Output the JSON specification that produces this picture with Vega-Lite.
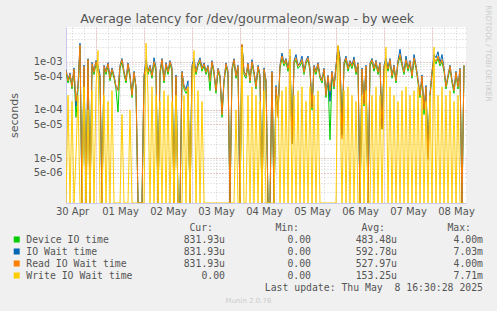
{
"$schema":"https://vega.github.io/schema/vega-lite/v6.json",
"autosize":{"type":"none"},
"padding":{"left":66,"top":27,"right":31,"bottom":108},
"width":400,"height":176,
"background":"#f0f0f0",
"view":{"fill":"white","stroke":null},
"title":{"text":"Average latency for /dev/gourmaleon/swap - by week","anchor":"start","dx":72,"dy":34,"offset":3,"baseline":"alphabetic","font":"DejaVu Sans","fontSize":12.5,"fontWeight":"normal","color":"#555555"},
"datasets":{
"table":[
{"row":"header","col":"Cur","text":"Cur:"},
{"row":"header","col":"Min","text":"Min:"},
{"row":"header","col":"Avg","text":"Avg:"},
{"row":"header","col":"Max","text":"Max:"},
{"row":"Device IO time","col":"Cur","text":"831.93u"},
{"row":"Device IO time","col":"Min","text":"0.00\u00a0"},
{"row":"Device IO time","col":"Avg","text":"483.48u"},
{"row":"Device IO time","col":"Max","text":"4.00m"},
{"row":"IO Wait time","col":"Cur","text":"831.93u"},
{"row":"IO Wait time","col":"Min","text":"0.00\u00a0"},
{"row":"IO Wait time","col":"Avg","text":"592.78u"},
{"row":"IO Wait time","col":"Max","text":"7.03m"},
{"row":"Read IO Wait time","col":"Cur","text":"831.93u"},
{"row":"Read IO Wait time","col":"Min","text":"0.00\u00a0"},
{"row":"Read IO Wait time","col":"Avg","text":"527.97u"},
{"row":"Read IO Wait time","col":"Max","text":"4.00m"},
{"row":"Write IO Wait time","col":"Cur","text":"0.00\u00a0"},
{"row":"Write IO Wait time","col":"Min","text":"0.00\u00a0"},
{"row":"Write IO Wait time","col":"Avg","text":"153.25u"},
{"row":"Write IO Wait time","col":"Max","text":"7.71m"},
{"row":"update","col":"Max","text":"Last update: Thu May\u00a0 8 16:30:28 2025"}
]},
"layer":[
{
"data":{"values":[
{"t":"2025-04-30T09:00","d":5.9e-4,"i":6.8e-4,"r":6.5e-4,"w":0},
{"t":"2025-04-30T10:00","d":3.6e-4,"i":4.3e-4,"r":4e-4,"w":2e-4},
{"t":"2025-04-30T11:00","d":5e-4,"i":5.8e-4,"r":5.5e-4,"w":0},
{"t":"2025-04-30T12:00","d":2.7e-4,"i":3.2e-4,"r":3e-4,"w":1.5e-4},
{"t":"2025-04-30T13:00","d":6.3e-4,"i":7.4e-4,"r":7e-4,"w":0},
{"t":"2025-04-30T14:00","d":7e-5,"i":1.2e-4,"r":1.5e-4,"w":1.2e-5},
{"t":"2025-04-30T15:00","d":2.6e-4,"i":3.3e-4,"r":3e-4,"w":2e-4},
{"t":"2025-04-30T16:00","d":1.9e-3,"i":2.4e-3,"r":2.2e-3,"w":0},
{"t":"2025-04-30T17:00","d":0,"i":0,"r":0,"w":0},
{"t":"2025-04-30T18:00","d":7.2e-4,"i":8.5e-4,"r":8e-4,"w":3e-4},
{"t":"2025-04-30T19:00","d":0,"i":0,"r":0,"w":0},
{"t":"2025-04-30T20:00","d":9.8e-4,"i":1.15e-3,"r":1.1e-3,"w":1e-4},
{"t":"2025-04-30T21:00","d":0,"i":0,"r":0,"w":0},
{"t":"2025-04-30T22:00","d":8.1e-4,"i":9.6e-4,"r":9e-4,"w":2.5e-4},
{"t":"2025-04-30T23:00","d":5.4e-4,"i":6.3e-4,"r":6e-4,"w":0},
{"t":"2025-05-01T00:00","d":9e-4,"i":1.06e-3,"r":1e-3,"w":3e-4},
{"t":"2025-05-01T01:00","d":6.3e-4,"i":8.5e-4,"r":7e-4,"w":1.7e-3},
{"t":"2025-05-01T02:00","d":4.5e-4,"i":5.3e-4,"r":5e-4,"w":0},
{"t":"2025-05-01T03:00","d":0,"i":0,"r":0,"w":0},
{"t":"2025-05-01T04:00","d":7.1e-4,"i":8.4e-4,"r":8e-4,"w":2e-4},
{"t":"2025-05-01T05:00","d":5.4e-4,"i":6.3e-4,"r":6e-4,"w":0},
{"t":"2025-05-01T06:00","d":8e-4,"i":9.5e-4,"r":9e-4,"w":1.5e-4},
{"t":"2025-05-01T07:00","d":4e-4,"i":4.8e-4,"r":4.5e-4,"w":0},
{"t":"2025-05-01T08:00","d":6.3e-4,"i":7.4e-4,"r":7e-4,"w":2.5e-4},
{"t":"2025-05-01T09:00","d":4.5e-4,"i":5.2e-4,"r":5e-4,"w":0},
{"t":"2025-05-01T10:00","d":2.7e-4,"i":3.1e-4,"r":3e-4,"w":0},
{"t":"2025-05-01T11:00","d":9e-5,"i":2.6e-4,"r":2.5e-4,"w":0},
{"t":"2025-05-01T12:00","d":7.2e-4,"i":8.4e-4,"r":8e-4,"w":0},
{"t":"2025-05-01T13:00","d":9.9e-4,"i":1.16e-3,"r":1.1e-3,"w":8e-5},
{"t":"2025-05-01T14:00","d":5.4e-4,"i":6.3e-4,"r":6e-4,"w":0},
{"t":"2025-05-01T15:00","d":3.6e-4,"i":4.2e-4,"r":4e-4,"w":0},
{"t":"2025-05-01T16:00","d":8.1e-4,"i":9.4e-4,"r":9e-4,"w":0},
{"t":"2025-05-01T17:00","d":4.5e-4,"i":5.3e-4,"r":5e-4,"w":1e-4},
{"t":"2025-05-01T18:00","d":1.8e-4,"i":2.1e-4,"r":2e-4,"w":0},
{"t":"2025-05-01T19:00","d":5.4e-4,"i":6.3e-4,"r":6e-4,"w":0},
{"t":"2025-05-01T20:00","d":2.7e-4,"i":3.1e-4,"r":3e-4,"w":0},
{"t":"2025-05-01T21:00","d":0,"i":0,"r":0,"w":0},
{"t":"2025-05-01T22:00","d":0,"i":0,"r":0,"w":0},
{"t":"2025-05-01T23:00","d":0,"i":0,"r":0,"w":0},
{"t":"2025-05-02T00:00","d":4.5e-4,"i":5.2e-4,"r":5e-4,"w":0},
{"t":"2025-05-02T01:00","d":8.1e-4,"i":1.1e-3,"r":9e-4,"w":2.4e-3},
{"t":"2025-05-02T02:00","d":5.4e-4,"i":6.4e-4,"r":6e-4,"w":2e-4},
{"t":"2025-05-02T03:00","d":7.2e-4,"i":8.4e-4,"r":8e-4,"w":0},
{"t":"2025-05-02T04:00","d":4.5e-4,"i":5.4e-4,"r":5e-4,"w":3e-4},
{"t":"2025-05-02T05:00","d":9e-4,"i":1.2e-3,"r":1e-3,"w":0},
{"t":"2025-05-02T06:00","d":6.3e-4,"i":7.4e-4,"r":7e-4,"w":2e-4},
{"t":"2025-05-02T07:00","d":0,"i":0,"r":0,"w":0},
{"t":"2025-05-02T08:00","d":5.4e-4,"i":6.3e-4,"r":6e-4,"w":1.5e-4},
{"t":"2025-05-02T09:00","d":9.9e-4,"i":1.16e-3,"r":1.1e-3,"w":0},
{"t":"2025-05-02T10:00","d":3.6e-4,"i":4.3e-4,"r":4e-4,"w":2.5e-4},
{"t":"2025-05-02T11:00","d":8.1e-4,"i":9.5e-4,"r":9e-4,"w":0},
{"t":"2025-05-02T12:00","d":5.4e-4,"i":6.3e-4,"r":6e-4,"w":2e-4},
{"t":"2025-05-02T13:00","d":9e-4,"i":1.05e-3,"r":1e-3,"w":0},
{"t":"2025-05-02T14:00","d":6.3e-4,"i":7.4e-4,"r":7e-4,"w":1.5e-4},
{"t":"2025-05-02T15:00","d":0,"i":0,"r":0,"w":0},
{"t":"2025-05-02T16:00","d":4.5e-4,"i":5.3e-4,"r":5e-4,"w":2e-4},
{"t":"2025-05-02T17:00","d":0,"i":0,"r":0,"w":0},
{"t":"2025-05-02T18:00","d":0,"i":0,"r":0,"w":0},
{"t":"2025-05-02T19:00","d":5.4e-4,"i":6.3e-4,"r":6e-4,"w":0},
{"t":"2025-05-02T20:00","d":2.7e-4,"i":3.2e-4,"r":3e-4,"w":2e-4},
{"t":"2025-05-02T21:00","d":2.2e-4,"i":2.7e-4,"r":2.5e-4,"w":0},
{"t":"2025-05-02T22:00","d":2.6e-4,"i":4e-4,"r":3e-4,"w":3e-4},
{"t":"2025-05-02T23:00","d":0,"i":0,"r":0,"w":0},
{"t":"2025-05-03T00:00","d":7.2e-4,"i":8.4e-4,"r":8e-4,"w":2e-4},
{"t":"2025-05-03T01:00","d":9e-4,"i":1.15e-3,"r":1e-3,"w":1.7e-3},
{"t":"2025-05-03T02:00","d":5.4e-4,"i":6.3e-4,"r":6e-4,"w":0},
{"t":"2025-05-03T03:00","d":8.1e-4,"i":9.5e-4,"r":9e-4,"w":2.5e-4},
{"t":"2025-05-03T04:00","d":9.9e-4,"i":1.2e-3,"r":1.1e-3,"w":0},
{"t":"2025-05-03T05:00","d":6.3e-4,"i":7.4e-4,"r":7e-4,"w":1.5e-4},
{"t":"2025-05-03T06:00","d":8.1e-4,"i":9.4e-4,"r":9e-4,"w":0},
{"t":"2025-05-03T07:00","d":5.4e-4,"i":6.3e-4,"r":6e-4,"w":0},
{"t":"2025-05-03T08:00","d":7.2e-4,"i":8.4e-4,"r":8e-4,"w":0},
{"t":"2025-05-03T09:00","d":2.5e-4,"i":4.2e-4,"r":4e-4,"w":0},
{"t":"2025-05-03T10:00","d":9e-4,"i":1.05e-3,"r":1e-3,"w":0},
{"t":"2025-05-03T11:00","d":5.4e-4,"i":6.3e-4,"r":6e-4,"w":0},
{"t":"2025-05-03T12:00","d":2.2e-4,"i":2.6e-4,"r":2.5e-4,"w":0},
{"t":"2025-05-03T13:00","d":6.3e-4,"i":7.3e-4,"r":7e-4,"w":0},
{"t":"2025-05-03T14:00","d":4.5e-4,"i":5.2e-4,"r":5e-4,"w":0},
{"t":"2025-05-03T15:00","d":7e-5,"i":9e-5,"r":8e-5,"w":0},
{"t":"2025-05-03T16:00","d":3.6e-4,"i":4.2e-4,"r":4e-4,"w":0},
{"t":"2025-05-03T17:00","d":8.1e-4,"i":9.4e-4,"r":9e-4,"w":0},
{"t":"2025-05-03T18:00","d":5.4e-4,"i":6.3e-4,"r":6e-4,"w":0},
{"t":"2025-05-03T19:00","d":0,"i":0,"r":0,"w":0},
{"t":"2025-05-03T20:00","d":6.3e-4,"i":7.3e-4,"r":7e-4,"w":0},
{"t":"2025-05-03T21:00","d":9.9e-4,"i":1.15e-3,"r":1.1e-3,"w":0},
{"t":"2025-05-03T22:00","d":4.5e-4,"i":5.2e-4,"r":5e-4,"w":1e-4},
{"t":"2025-05-03T23:00","d":7.2e-4,"i":8.4e-4,"r":8e-4,"w":0},
{"t":"2025-05-04T00:00","d":0,"i":0,"r":0,"w":0},
{"t":"2025-05-04T01:00","d":2.2e-3,"i":2.2e-3,"r":2.3e-3,"w":2e-3},
{"t":"2025-05-04T02:00","d":5.4e-4,"i":6.3e-4,"r":6e-4,"w":0},
{"t":"2025-05-04T03:00","d":4.5e-4,"i":5.2e-4,"r":5e-4,"w":0},
{"t":"2025-05-04T04:00","d":8.1e-4,"i":9.4e-4,"r":9e-4,"w":2e-4},
{"t":"2025-05-04T05:00","d":3.6e-4,"i":4.2e-4,"r":4e-4,"w":0},
{"t":"2025-05-04T06:00","d":9e-4,"i":1.1e-3,"r":1e-3,"w":3e-4},
{"t":"2025-05-04T07:00","d":5.4e-4,"i":6.3e-4,"r":6e-4,"w":0},
{"t":"2025-05-04T08:00","d":2.7e-4,"i":3.2e-4,"r":3e-4,"w":2e-4},
{"t":"2025-05-04T09:00","d":7.2e-4,"i":8.4e-4,"r":8e-4,"w":0},
{"t":"2025-05-04T10:00","d":4.5e-4,"i":5.3e-4,"r":5e-4,"w":1.5e-4},
{"t":"2025-05-04T11:00","d":0,"i":0,"r":0,"w":0},
{"t":"2025-05-04T12:00","d":6.3e-4,"i":7.4e-4,"r":7e-4,"w":2.5e-4},
{"t":"2025-05-04T13:00","d":3.6e-4,"i":4.2e-4,"r":4e-4,"w":0},
{"t":"2025-05-04T14:00","d":0,"i":0,"r":0,"w":0},
{"t":"2025-05-04T15:00","d":0,"i":0,"r":0,"w":0},
{"t":"2025-05-04T16:00","d":5.4e-4,"i":6.3e-4,"r":6e-4,"w":0},
{"t":"2025-05-04T17:00","d":0,"i":0,"r":0,"w":0},
{"t":"2025-05-04T18:00","d":2.7e-4,"i":3.2e-4,"r":3e-4,"w":1.5e-4},
{"t":"2025-05-04T19:00","d":1e-4,"i":8e-5,"r":7e-5,"w":2e-4},
{"t":"2025-05-04T20:00","d":7.2e-4,"i":8.4e-4,"r":8e-4,"w":0},
{"t":"2025-05-04T21:00","d":1.17e-3,"i":1.5e-3,"r":1.3e-3,"w":2.5e-4},
{"t":"2025-05-04T22:00","d":8.1e-4,"i":9.4e-4,"r":9e-4,"w":0},
{"t":"2025-05-04T23:00","d":9.9e-4,"i":1.16e-3,"r":1.1e-3,"w":3e-4},
{"t":"2025-05-05T00:00","d":6.3e-4,"i":7.4e-4,"r":7e-4,"w":0},
{"t":"2025-05-05T01:00","d":1.08e-3,"i":1.3e-3,"r":1.2e-3,"w":1.8e-3},
{"t":"2025-05-05T02:00","d":2e-5,"i":2e-5,"r":2e-5,"w":0},
{"t":"2025-05-05T03:00","d":9e-4,"i":1.05e-3,"r":1e-3,"w":2e-4},
{"t":"2025-05-05T04:00","d":1.08e-3,"i":1.4e-3,"r":1.2e-3,"w":0},
{"t":"2025-05-05T05:00","d":7.2e-4,"i":8.4e-4,"r":8e-4,"w":2.5e-4},
{"t":"2025-05-05T06:00","d":8.1e-4,"i":9.4e-4,"r":9e-4,"w":0},
{"t":"2025-05-05T07:00","d":9.9e-4,"i":1.3e-3,"r":1.1e-3,"w":3e-4},
{"t":"2025-05-05T08:00","d":5.4e-4,"i":6.3e-4,"r":6e-4,"w":0},
{"t":"2025-05-05T09:00","d":9e-4,"i":1.05e-3,"r":1e-3,"w":1.5e-4},
{"t":"2025-05-05T10:00","d":1.08e-3,"i":1.3e-3,"r":1.2e-3,"w":0},
{"t":"2025-05-05T11:00","d":6.3e-4,"i":7.4e-4,"r":7e-4,"w":3e-4},
{"t":"2025-05-05T12:00","d":1e-4,"i":1.2e-4,"r":1.1e-4,"w":0},
{"t":"2025-05-05T13:00","d":7.2e-4,"i":8.4e-4,"r":8e-4,"w":2e-4},
{"t":"2025-05-05T14:00","d":5.4e-4,"i":6.3e-4,"r":6e-4,"w":0},
{"t":"2025-05-05T15:00","d":8.1e-4,"i":9.5e-4,"r":9e-4,"w":2.5e-4},
{"t":"2025-05-05T16:00","d":4.5e-4,"i":5.2e-4,"r":5e-4,"w":0},
{"t":"2025-05-05T17:00","d":3.6e-4,"i":4.2e-4,"r":4e-4,"w":0},
{"t":"2025-05-05T18:00","d":6.3e-4,"i":7.3e-4,"r":7e-4,"w":0},
{"t":"2025-05-05T19:00","d":1.8e-4,"i":2.1e-4,"r":2e-4,"w":0},
{"t":"2025-05-05T20:00","d":4.5e-4,"i":5.2e-4,"r":5e-4,"w":0},
{"t":"2025-05-05T21:00","d":2.4e-5,"i":1.5e-4,"r":2.5e-4,"w":0},
{"t":"2025-05-05T22:00","d":5.4e-4,"i":6.3e-4,"r":6e-4,"w":0},
{"t":"2025-05-05T23:00","d":2.7e-4,"i":3.1e-4,"r":3e-4,"w":0},
{"t":"2025-05-06T00:00","d":7.2e-4,"i":8.4e-4,"r":8e-4,"w":0},
{"t":"2025-05-06T01:00","d":1.8e-3,"i":2.1e-3,"r":2e-3,"w":2.2e-3},
{"t":"2025-05-06T02:00","d":9.9e-4,"i":1.2e-3,"r":1.1e-3,"w":2e-4},
{"t":"2025-05-06T03:00","d":3e-5,"i":3e-5,"r":2.5e-5,"w":0},
{"t":"2025-05-06T04:00","d":8.1e-4,"i":9.5e-4,"r":9e-4,"w":2.5e-4},
{"t":"2025-05-06T05:00","d":1.08e-3,"i":1.3e-3,"r":1.2e-3,"w":0},
{"t":"2025-05-06T06:00","d":6.3e-4,"i":7.4e-4,"r":7e-4,"w":3e-4},
{"t":"2025-05-06T07:00","d":9e-4,"i":1.05e-3,"r":1e-3,"w":0},
{"t":"2025-05-06T08:00","d":7.2e-4,"i":8.4e-4,"r":8e-4,"w":2e-4},
{"t":"2025-05-06T09:00","d":9.9e-4,"i":1.25e-3,"r":1.1e-3,"w":0},
{"t":"2025-05-06T10:00","d":5.4e-4,"i":6.3e-4,"r":6e-4,"w":1.5e-4},
{"t":"2025-05-06T11:00","d":8.1e-4,"i":9.4e-4,"r":9e-4,"w":0},
{"t":"2025-05-06T12:00","d":0,"i":0,"r":0,"w":0},
{"t":"2025-05-06T13:00","d":6.3e-4,"i":7.4e-4,"r":7e-4,"w":2e-4},
{"t":"2025-05-06T14:00","d":1.2e-4,"i":1.4e-4,"r":1.3e-4,"w":0},
{"t":"2025-05-06T15:00","d":7.2e-4,"i":8.4e-4,"r":8e-4,"w":2.5e-4},
{"t":"2025-05-06T16:00","d":0,"i":0,"r":0,"w":0},
{"t":"2025-05-06T17:00","d":8.1e-4,"i":9.4e-4,"r":9e-4,"w":0},
{"t":"2025-05-06T18:00","d":9.9e-4,"i":1.16e-3,"r":1.1e-3,"w":2e-4},
{"t":"2025-05-06T19:00","d":6.3e-4,"i":7.3e-4,"r":7e-4,"w":0},
{"t":"2025-05-06T20:00","d":9e-4,"i":1.06e-3,"r":1e-3,"w":3e-4},
{"t":"2025-05-06T21:00","d":5.4e-4,"i":6.3e-4,"r":6e-4,"w":0},
{"t":"2025-05-06T22:00","d":8.1e-4,"i":9.5e-4,"r":9e-4,"w":2e-4},
{"t":"2025-05-06T23:00","d":4e-5,"i":4.5e-5,"r":4e-5,"w":0},
{"t":"2025-05-07T00:00","d":7.2e-4,"i":8.4e-4,"r":8e-4,"w":2.5e-4},
{"t":"2025-05-07T01:00","d":9e-4,"i":1.2e-3,"r":1e-3,"w":2e-3},
{"t":"2025-05-07T02:00","d":6.3e-4,"i":7.3e-4,"r":7e-4,"w":0},
{"t":"2025-05-07T03:00","d":9.9e-4,"i":1.16e-3,"r":1.1e-3,"w":3e-4},
{"t":"2025-05-07T04:00","d":4.5e-4,"i":5.2e-4,"r":5e-4,"w":0},
{"t":"2025-05-07T05:00","d":7.2e-4,"i":8.4e-4,"r":8e-4,"w":2e-4},
{"t":"2025-05-07T06:00","d":3.6e-4,"i":4.2e-4,"r":4e-4,"w":0},
{"t":"2025-05-07T07:00","d":9e-4,"i":1.05e-3,"r":1e-3,"w":1.5e-4},
{"t":"2025-05-07T08:00","d":1.26e-3,"i":1.8e-3,"r":1.4e-3,"w":0},
{"t":"2025-05-07T09:00","d":8.1e-4,"i":9.5e-4,"r":9e-4,"w":2.5e-4},
{"t":"2025-05-07T10:00","d":5.4e-4,"i":6.3e-4,"r":6e-4,"w":0},
{"t":"2025-05-07T11:00","d":9.9e-4,"i":1.3e-3,"r":1.1e-3,"w":3e-4},
{"t":"2025-05-07T12:00","d":6.3e-4,"i":7.3e-4,"r":7e-4,"w":0},
{"t":"2025-05-07T13:00","d":9e-4,"i":1.05e-3,"r":1e-3,"w":2e-4},
{"t":"2025-05-07T14:00","d":4.5e-4,"i":5.2e-4,"r":5e-4,"w":0},
{"t":"2025-05-07T15:00","d":1.08e-3,"i":1.4e-3,"r":1.2e-3,"w":2.5e-4},
{"t":"2025-05-07T16:00","d":7.2e-4,"i":8.4e-4,"r":8e-4,"w":0},
{"t":"2025-05-07T17:00","d":3.6e-4,"i":4.3e-4,"r":4e-4,"w":3e-4},
{"t":"2025-05-07T18:00","d":1.8e-4,"i":2.1e-4,"r":2e-4,"w":0},
{"t":"2025-05-07T19:00","d":4.5e-4,"i":5.3e-4,"r":5e-4,"w":2e-4},
{"t":"2025-05-07T20:00","d":8e-5,"i":1.05e-4,"r":1e-4,"w":0},
{"t":"2025-05-07T21:00","d":2.7e-4,"i":3.2e-4,"r":3e-4,"w":1.5e-4},
{"t":"2025-05-07T22:00","d":1e-5,"i":1e-5,"r":9e-6,"w":0},
{"t":"2025-05-07T23:00","d":1.8e-4,"i":2.2e-4,"r":2e-4,"w":2e-4},
{"t":"2025-05-08T00:00","d":5.4e-4,"i":6.3e-4,"r":6e-4,"w":0},
{"t":"2025-05-08T01:00","d":1.08e-3,"i":1.4e-3,"r":1.2e-3,"w":2e-3},
{"t":"2025-05-08T02:00","d":9e-4,"i":1.2e-3,"r":1e-3,"w":0},
{"t":"2025-05-08T03:00","d":1.17e-3,"i":1.6e-3,"r":1.3e-3,"w":2e-4},
{"t":"2025-05-08T04:00","d":8.1e-4,"i":9.4e-4,"r":9e-4,"w":0},
{"t":"2025-05-08T05:00","d":9.9e-4,"i":1.4e-3,"r":1.1e-3,"w":3e-4},
{"t":"2025-05-08T06:00","d":6.3e-4,"i":7.3e-4,"r":7e-4,"w":0},
{"t":"2025-05-08T07:00","d":2.7e-4,"i":3.2e-4,"r":3e-4,"w":2e-4},
{"t":"2025-05-08T08:00","d":4.5e-4,"i":5.2e-4,"r":5e-4,"w":0},
{"t":"2025-05-08T09:00","d":7.2e-4,"i":8.4e-4,"r":8e-4,"w":2.5e-4},
{"t":"2025-05-08T10:00","d":3.6e-4,"i":4.2e-4,"r":4e-4,"w":0},
{"t":"2025-05-08T11:00","d":2.2e-4,"i":2.7e-4,"r":2.5e-4,"w":1.5e-4},
{"t":"2025-05-08T12:00","d":5.4e-4,"i":6.3e-4,"r":6e-4,"w":0},
{"t":"2025-05-08T13:00","d":2.7e-4,"i":3.2e-4,"r":3e-4,"w":2e-4},
{"t":"2025-05-08T14:00","d":6.3e-4,"i":7.3e-4,"r":7e-4,"w":0},
{"t":"2025-05-08T15:00","d":0,"i":0,"r":0,"w":0},
{"t":"2025-05-08T16:00","d":8.3193e-4,"i":8.3193e-4,"r":8.3193e-4,"w":0}
]},
"transform":[{"fold":["d","i","r","w"],"as":["key","value"]}],
"mark":{"type":"line","strokeWidth":1,"clip":true},
"encoding":{
"x":{"field":"t","type":"temporal",
"scale":{"domain":[{"year":2025,"month":4,"date":30,"hours":9},{"year":2025,"month":5,"date":8,"hours":17}]},
"axis":{"orient":"bottom","title":null,"labels":false,"ticks":false,"domainColor":"#c8c8f0",
"grid":true,"gridDash":[1,2],"gridColor":"#d0d0d0",
"values":[{"year":2025,"month":4,"date":30,"hours":12},{"year":2025,"month":4,"date":30,"hours":18},
{"year":2025,"month":5,"date":1,"hours":0},{"year":2025,"month":5,"date":1,"hours":6},{"year":2025,"month":5,"date":1,"hours":12},{"year":2025,"month":5,"date":1,"hours":18},
{"year":2025,"month":5,"date":2,"hours":0},{"year":2025,"month":5,"date":2,"hours":6},{"year":2025,"month":5,"date":2,"hours":12},{"year":2025,"month":5,"date":2,"hours":18},
{"year":2025,"month":5,"date":3,"hours":0},{"year":2025,"month":5,"date":3,"hours":6},{"year":2025,"month":5,"date":3,"hours":12},{"year":2025,"month":5,"date":3,"hours":18},
{"year":2025,"month":5,"date":4,"hours":0},{"year":2025,"month":5,"date":4,"hours":6},{"year":2025,"month":5,"date":4,"hours":12},{"year":2025,"month":5,"date":4,"hours":18},
{"year":2025,"month":5,"date":5,"hours":0},{"year":2025,"month":5,"date":5,"hours":6},{"year":2025,"month":5,"date":5,"hours":12},{"year":2025,"month":5,"date":5,"hours":18},
{"year":2025,"month":5,"date":6,"hours":0},{"year":2025,"month":5,"date":6,"hours":6},{"year":2025,"month":5,"date":6,"hours":12},{"year":2025,"month":5,"date":6,"hours":18},
{"year":2025,"month":5,"date":7,"hours":0},{"year":2025,"month":5,"date":7,"hours":6},{"year":2025,"month":5,"date":7,"hours":12},{"year":2025,"month":5,"date":7,"hours":18},
{"year":2025,"month":5,"date":8,"hours":0},{"year":2025,"month":5,"date":8,"hours":6},{"year":2025,"month":5,"date":8,"hours":12}]}},
"y":{"field":"value","type":"quantitative",
"scale":{"type":"log","domain":[1.18e-6,5.2e-3],"clamp":true},
"axis":{"orient":"left","title":null,"labels":false,"ticks":false,"domainColor":"#c8c8f0",
"grid":true,"gridDash":[1,2],"gridColor":"#d0d0d0",
"values":[2e-6,3e-6,4e-6,5e-6,6e-6,7e-6,8e-6,9e-6,1e-5,2e-5,3e-5,4e-5,5e-5,6e-5,7e-5,8e-5,9e-5,1e-4,2e-4,3e-4,4e-4,5e-4,6e-4,7e-4,8e-4,9e-4,1e-3,2e-3,3e-3,4e-3,5e-3]}},
"color":{"field":"key","type":"nominal",
"scale":{"domain":["d","i","r","w"],"range":["#00cc00","#0066b3","#ff8000","#ffcc00"]},
"legend":null}
}
},
{
"data":{"values":[{}]},
"mark":{"type":"point","opacity":0},
"encoding":{
"x":{"datum":{"year":2025,"month":5,"date":1},"type":"temporal",
"scale":{"domain":[{"year":2025,"month":4,"date":30,"hours":9},{"year":2025,"month":5,"date":8,"hours":17}]},
"axis":{"orient":"bottom","grid":false,"ticks":false,"domain":false,"format":"%d %b","labelFont":"DejaVu Sans","labelFontSize":10,"labelColor":"#555555","labelPadding":3,"labelOverlap":false,"labelFlush":false,
"title":"Munin 2.0.76","titleX":182,"titleY":97,"titleAlign":"center","titleBaseline":"middle","titleFont":"DejaVu Sans","titleFontSize":7,"titleFontWeight":"normal","titleColor":"#cccccc",
"values":[{"year":2025,"month":4,"date":30,"hours":12},{"year":2025,"month":5,"date":1,"hours":12},{"year":2025,"month":5,"date":2,"hours":12},{"year":2025,"month":5,"date":3,"hours":12},{"year":2025,"month":5,"date":4,"hours":12},{"year":2025,"month":5,"date":5,"hours":12},{"year":2025,"month":5,"date":6,"hours":12},{"year":2025,"month":5,"date":7,"hours":12},{"year":2025,"month":5,"date":8,"hours":12}]}},
"y":{"datum":0.001,"type":"quantitative",
"scale":{"type":"log","domain":[1.18e-6,5.2e-3],"clamp":true},
"axis":{"orient":"left","title":"seconds","titleFont":"DejaVu Sans","titleFontSize":11,"titleFontWeight":"normal","titleColor":"#555555","titlePadding":14,
"values":[5e-6,1e-5,5e-5,1e-4,5e-4,1e-3],
"labelExpr":"datum.value==1e-3?'1e-03':datum.value==5e-4?'5e-04':datum.value==1e-4?'1e-04':datum.value==5e-5?'5e-05':datum.value==1e-5?'1e-05':'5e-06'",
"labelFont":"DejaVu Sans","labelFontSize":10,"labelColor":"#555555","labelPadding":4,"labelOverlap":false,
"ticks":false,"domain":false,"grid":true,"gridDash":[1,2],"gridColor":"#e7a5a5"}}
}
},
{
"data":{"values":[{}]},
"mark":{"type":"point","opacity":0},
"encoding":{
"x":{"datum":{"year":2025,"month":5,"date":1},"type":"temporal",
"scale":{"domain":[{"year":2025,"month":4,"date":30,"hours":9},{"year":2025,"month":5,"date":8,"hours":17}]},
"axis":{"orient":"top","labels":false,"ticks":false,"domain":false,"title":null,"grid":true,"gridDash":[1,2],"gridColor":"#e7a5a5",
"values":[{"year":2025,"month":5,"date":1},{"year":2025,"month":5,"date":2},{"year":2025,"month":5,"date":3},{"year":2025,"month":5,"date":4},{"year":2025,"month":5,"date":5},{"year":2025,"month":5,"date":6},{"year":2025,"month":5,"date":7},{"year":2025,"month":5,"date":8}]}},
"y":{"datum":0.001,"type":"quantitative",
"scale":{"type":"log","domain":[1.18e-6,5.2e-3],"clamp":true},
"axis":{"orient":"right","labels":false,"ticks":false,"domain":false,"grid":false,"values":[1e-3],"title":"RRDTOOL / TOBI OETIKER","titleAngle":90,"titleFont":"DejaVu Sans","titleFontSize":7.5,"titleFontWeight":"normal","titleColor":"#cccccc","titleX":21,"titleY":26,"titleAlign":"center","titleBaseline":"middle"}}
}
},
{
"data":{"name":"table"},
"transform":[{"filter":"datum.row != 'header'"}],
"mark":{"type":"text","align":"right","baseline":"middle","font":"DejaVu Sans Mono","fontSize":9.8,"color":"#555555"},
"encoding":{
"x":{"field":"col","type":"ordinal","scale":{"type":"point","domain":["Cur","Min","Avg","Max"],"range":[159,417],"padding":0},"axis":null},
"y":{"field":"row","type":"ordinal","scale":{"type":"point","domain":["header","Device IO time","IO Wait time","Read IO Wait time","Write IO Wait time","update"],"range":[200.5,260.5],"padding":0},"axis":null},
"text":{"field":"text"}
}
},
{
"data":{"name":"table"},
"transform":[{"filter":"datum.row == 'header'"}],
"mark":{"type":"text","align":"right","baseline":"middle","dx":-12,"font":"DejaVu Sans Mono","fontSize":9.8,"color":"#555555"},
"encoding":{
"x":{"field":"col","type":"ordinal","scale":{"type":"point","domain":["Cur","Min","Avg","Max"],"range":[159,417],"padding":0},"axis":null},
"y":{"field":"row","type":"ordinal","scale":{"type":"point","domain":["header","Device IO time","IO Wait time","Read IO Wait time","Write IO Wait time","update"],"range":[200.5,260.5],"padding":0},"axis":null},
"text":{"field":"text"}
}
},
{
"data":{"name":"table"},
"transform":[{"filter":"datum.col == 'Cur' && datum.row != 'header'"}],
"mark":{"type":"point","shape":"square","filled":true,"size":36,"opacity":1,"strokeWidth":0},
"encoding":{
"x":{"datum":"name","type":"ordinal","scale":{"type":"point","domain":["name"],"range":[-49.3,-49.3],"padding":0},"axis":null},
"y":{"field":"row","type":"ordinal","scale":{"type":"point","domain":["header","Device IO time","IO Wait time","Read IO Wait time","Write IO Wait time","update"],"range":[200.5,260.5],"padding":0},"axis":null},
"color":{"field":"row","type":"nominal","scale":{"domain":["Device IO time","IO Wait time","Read IO Wait time","Write IO Wait time"],"range":["#00cc00","#0066b3","#ff8000","#ffcc00"]},"legend":null}
}
},
{
"data":{"name":"table"},
"transform":[{"filter":"datum.col == 'Cur' && datum.row != 'header'"}],
"mark":{"type":"text","align":"left","baseline":"middle","dx":9.6,"font":"DejaVu Sans Mono","fontSize":9.8,"color":"#555555"},
"encoding":{
"x":{"datum":"name","type":"ordinal","scale":{"type":"point","domain":["name"],"range":[-49.3,-49.3],"padding":0},"axis":null},
"y":{"field":"row","type":"ordinal","scale":{"type":"point","domain":["header","Device IO time","IO Wait time","Read IO Wait time","Write IO Wait time","update"],"range":[200.5,260.5],"padding":0},"axis":null},
"text":{"field":"row"}
}
}
],
"resolve":{"scale":{"x":"independent","y":"independent","color":"independent"},"axis":{"x":"independent","y":"independent"}}
}
